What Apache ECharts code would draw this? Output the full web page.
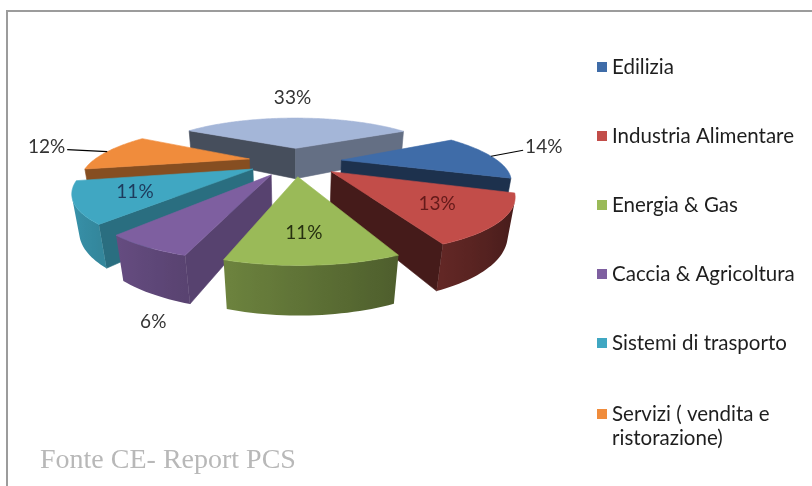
<!DOCTYPE html>
<html>
<head>
<meta charset="utf-8">
<title>Settori</title>
<script src="https://cdn.jsdelivr.net/npm/echarts@6/dist/echarts.min.js"></script>
<style>
  html, body { margin: 0; padding: 0; background: #ffffff; }
  #chart { width: 812px; height: 486px; }
</style>
</head>
<body>
<div id="chart"></div>
<script>
// Sector shares, in percent
const categories = ['Edilizia', 'Industria Alimentare', 'Energia & Gas', 'Caccia & Agricoltura',
                    'Sistemi di trasporto', 'Servizi ( vendita e ristorazione)', 'Altro'];
const shares = [14, 13, 11, 6, 11, 12, 33];
const legendNames = categories.slice(0, 6);
const sourceNote = 'Fonte CE- Report PCS';

// Cumulative start of each slice, in percent
const starts = shares.map((v, i) => shares.slice(0, i).reduce((a, b) => a + b, 0));

// Styling
const topColors = ['#3f6ca8', '#c24d49', '#9aba58', '#7e5fa0', '#40a7c2', '#f08c3c', '#a4b6d8'];
const labelColors = ['#333333', '#641a1a', '#263010', '#333333', '#1d3a5c', '#333333', '#333333'];
const labelFontSize = 19;
const textFont = 'Lato, "Open Sans", sans-serif';

// Where each percentage goes
const labelPlacement = [
  { mode: 'leader', dx: 32, dy: -6, textDy: -3, align: 'left' },
  { mode: 'inside', r: 0.7, dx: -3, dy: 1 },
  { mode: 'inside', r: 0.8, dx: -5, dy: -8 },
  { mode: 'below', dx: 1, dy: 28 },
  { mode: 'inside', r: 0.7, dx: 0, dy: 1 },
  { mode: 'leader', dx: -40, dy: -2, textDy: -3, align: 'right' },
  { mode: 'above', dx: -4, dy: -20 }
];

// Perspective camera looking down on an exploded pie of unit radius
const view = { cx: 295, cy: 194, focal: 457, dist: 3.0, tilt: 21.5, thick: 0.225, explode: 0.3, firstAngle: 60 };
const DEG = Math.PI / 180;
const sinT = Math.sin(view.tilt * DEG), cosT = Math.cos(view.tilt * DEG);
const camera = [0, view.dist * sinT, view.dist * cosT];

function project(p) {
  const d = view.dist - p[1] * sinT - p[2] * cosT;
  return [view.cx + view.focal * p[0] / d, view.cy - view.focal * (p[1] * cosT - p[2] * sinT) / d];
}
function facesCamera(n, p) {
  return n[0] * (camera[0] - p[0]) + n[1] * (camera[1] - p[1]) + n[2] * (camera[2] - p[2]) > 0;
}
function shade(hex, f) {
  const n = parseInt(hex.slice(1), 16);
  const c = [(n >> 16) & 255, (n >> 8) & 255, n & 255].map(v => Math.max(0, Math.min(255, Math.round(v * f))));
  return 'rgb(' + c.join(',') + ')';
}

function renderSlice(i, startPct, pct) {
  const a0 = view.firstAngle + startPct * 3.6;
  const a1 = a0 + pct * 3.6;
  const mid = (a0 + a1) / 2;
  const h = view.thick;
  const ox = view.explode * Math.sin(mid * DEG), oz = -view.explode * Math.cos(mid * DEG);
  const pt = (a, r, y) => [ox + r * Math.sin(a * DEG), y, oz - r * Math.cos(a * DEG)];
  const base = topColors[i];
  const centre = pt(mid, 0.5, h / 2);
  const far = Math.hypot(camera[0] - centre[0], camera[1] - centre[1], camera[2] - centre[2]);
  const z = Math.round((10 - far) * 100) * 10;
  const children = [];
  const face = (pts, fill, z2) => children.push({
    type: 'polygon', z2: z2,
    shape: { points: pts.map(project) },
    style: { fill: fill, stroke: fill, lineWidth: 0.6 }
  });

  // flat side walls
  [[a0, -1], [a1, 1]].forEach(([a, sgn]) => {
    const n = [sgn * Math.cos(a * DEG), 0, sgn * Math.sin(a * DEG)];
    if (facesCamera(n, pt(a, 0.5, h / 2))) {
      face([pt(a, 0, h), pt(a, 1, h), pt(a, 1, 0), pt(a, 0, 0)], shade(base, 0.52 + 0.18 * n[0]), z + 1);
    }
  });

  // curved rim: the part turned towards the camera, shaded across its width
  const M = Math.max(4, Math.ceil((a1 - a0) / 1.5));
  const vis = [];
  for (let k = 0; k <= M; k++) {
    const t = a0 + (a1 - a0) * k / M;
    const n = [Math.sin(t * DEG), 0, -Math.cos(t * DEG)];
    if (facesCamera(n, pt(t, 1, h / 2))) vis.push(t);
  }
  if (vis.length >= 2) {
    const topPts = vis.map(t => project(pt(t, 1, h)));
    const botPts = vis.map(t => project(pt(t, 1, 0)));
    const xs = topPts.map(p => p[0]);
    const xmin = Math.min.apply(null, xs), xmax = Math.max.apply(null, xs);
    const span = (xmax - xmin) || 1;
    const stops = vis.map((t, k) => ({
      offset: (xs[k] - xmin) / span,
      color: shade(base, 0.62 - 0.3 * Math.sin(t * DEG))
    })).sort((p, q) => p.offset - q.offset);
    children.push({
      type: 'polygon', z2: z + 2,
      shape: { points: topPts.concat(botPts.slice().reverse()) },
      style: { fill: { type: 'linear', x: xmin, y: 0, x2: xmax, y2: 0, global: true, colorStops: stops } }
    });
  }

  // top face
  const rim = [];
  for (let k = 0; k <= 2 * M; k++) rim.push(pt(a0 + (a1 - a0) * k / (2 * M), 1, h));
  face([pt(a0, 0, h)].concat(rim), base, z + 3);

  // percentage label
  const lp = labelPlacement[i];
  const text = pct + '%';
  const addText = (x, y, align) => children.push({
    type: 'text', z2: 100000,
    style: { text: text, x: x, y: y, fill: labelColors[i], fontSize: labelFontSize, fontFamily: textFont,
             align: align, verticalAlign: 'middle' }
  });
  if (lp.mode === 'inside') {
    const p = project(pt(mid, lp.r, h));
    addText(p[0] + lp.dx, p[1] + lp.dy, 'center');
  } else if (lp.mode === 'leader') {
    const p = project(pt(mid, 1, h));
    const q = [p[0] + lp.dx, p[1] + lp.dy];
    children.push({ type: 'polyline', z2: 100000, shape: { points: [p, q] },
                    style: { stroke: '#000000', lineWidth: 1.2, fill: null } });
    addText(q[0] + (lp.align === 'left' ? 2 : -2), q[1] + lp.textDy, lp.align);
  } else if (lp.mode === 'above') {
    const p = project(pt(mid, 1, h));
    addText(p[0] + lp.dx, p[1] + lp.dy, 'center');
  } else {
    const p = project(pt(mid, 1, 0));
    addText(p[0] + lp.dx, p[1] + lp.dy, 'center');
  }
  return { type: 'group', children: children };
}

const legendText = { fontFamily: textFont, fontSize: 20.5, color: '#1e1e1e', lineHeight: 22 };

const option = {
  animation: false,
  backgroundColor: '#ffffff',
  legend: [
    {
      orient: 'vertical', left: 597, top: 56, itemGap: 47, padding: 0,
      itemWidth: 10, itemHeight: 10, icon: 'rect',
      data: legendNames.slice(0, 5),
      textStyle: legendText, selectedMode: false
    },
    {
      // two-line entry: the marker sits at the top of a tall, mostly empty icon box
      orient: 'vertical', left: 597, top: 402, padding: 0,
      itemWidth: 10, itemHeight: 34, icon: 'path://M0,0H10V10H0Z M0,34H0.01V34.01H0Z',
      data: [legendNames[5]],
      formatter: n => n.replace('e ristorazione', 'e\nristorazione'),
      textStyle: Object.assign({}, legendText, { lineHeight: 24 }), selectedMode: false
    }
  ],
  graphic: [
    { type: 'polyline', silent: true, shape: { points: [[7, 486], [7, 11], [812, 11]] },
      style: { stroke: '#9c9c9c', lineWidth: 2, fill: null } },
    { type: 'text', left: 40, top: 447, silent: true,
      style: { text: sourceNote, font: '28px "Liberation Serif", serif', fill: '#b8b8b8' } }
  ],
  series: categories.map((name, i) => ({
    type: 'custom',
    name: name,
    coordinateSystem: 'none',
    silent: true,
    itemStyle: { color: topColors[i] },
    data: [[starts[i], shares[i]]],
    renderItem: (params, api) => renderSlice(i, api.value(0), api.value(1))
  }))
};

const chart = echarts.init(document.getElementById('chart'), null, { renderer: 'canvas' });
chart.setOption(option);
</script>
</body>
</html>
